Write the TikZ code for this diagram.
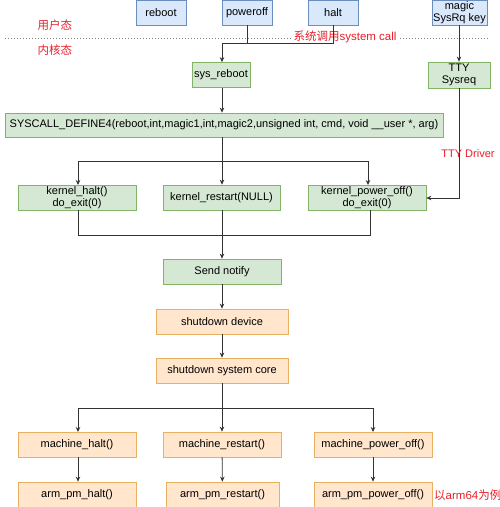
\documentclass[tikz,border=0pt]{standalone}
\usepackage{fontspec}
\setmainfont{Liberation Sans}
\newfontfamily\cjk{Noto Sans CJK SC}
\usetikzlibrary{arrows.meta}
\definecolor{bfill}{HTML}{DAE8FC}\definecolor{bline}{HTML}{6C8EBF}
\definecolor{gfill}{HTML}{D5E8D4}\definecolor{gline}{HTML}{82B366}
\definecolor{ofill}{HTML}{FFE6CC}\definecolor{oline}{HTML}{E8B060}
\definecolor{redtxt}{HTML}{E8202A}
\definecolor{conn}{HTML}{333333}
\tikzset{
  box/.style={draw, line width=0.7pt, inner sep=1pt, align=center, font=\fontsize{11}{12}\selectfont, minimum height=25pt},
  twoline/.style={font=\fontsize{11}{11.5}\selectfont},
  bbox/.style={box, fill=bfill, draw=bline},
  gbox/.style={box, fill=gfill, draw=gline},
  obox/.style={box, fill=ofill, draw=oline},
  conline/.style={draw=conn, line width=0.8pt},
  arr/.style={conline, -{Stealth[length=5pt,width=4.5pt]}},
  redlabel/.style={text=redtxt, font=\fontsize{11.5}{12}\selectfont, inner sep=1pt},
}
\begin{document}
\begin{tikzpicture}[x=1pt,y=-1pt]
\useasboundingbox[fill=white] (0,0) rectangle (500,507);
% top row
\node[bbox, minimum width=50pt] (reboot) at (161,12.5) {reboot};
\node[bbox, minimum width=50pt] (poweroff) at (247,12.5) {poweroff};
\node[bbox, minimum width=50pt] (halt) at (333,12.5) {halt};
\node[bbox, minimum width=55pt, twoline] (magic) at (459.5,12.5) {magic\\SysRq key};
% separator
\draw[gray, line width=0.8pt, dash pattern=on 1.2pt off 1.8pt] (5,38) -- (292,38);
\draw[gray, line width=0.8pt, dash pattern=on 1.2pt off 1.8pt] (400,38) -- (490,38);
\node[redlabel] (ulabel) at (55,25) {\cjk 用户态};
\node[redlabel] (klabel) at (55,50) {\cjk 内核态};
\node[redlabel] (sclabel) at (345,37) {{\cjk 系统调用}system call};
% kernel
\node[gbox, minimum width=58pt] (sysreboot) at (221,75) {sys\_reboot};
\node[gbox, minimum width=62pt, minimum height=26pt, twoline] (tty) at (459,75) {TTY\\Sysreq};
\node[gbox, minimum width=438pt, minimum height=24pt] (syscall) at (224,125) {SYSCALL\_DEFINE4(reboot,int,magic1,int,magic2,unsigned int, cmd, void \_\_user *, arg)};
\node[gbox, minimum width=118pt, twoline] (khalt) at (77,197.5) {kernel\_halt()\\do\_exit(0)};
\node[gbox, minimum width=117pt] (krestart) at (221.5,197.5) {kernel\_restart(NULL)};
\node[gbox, minimum width=118pt, twoline] (kpoweroff) at (367,197.5) {kernel\_power\_off()\\do\_exit(0)};
\node[gbox, minimum width=118pt] (notify) at (222,271.5) {Send notify};
\node[obox, minimum width=132pt] (sdev) at (222,321.5) {shutdown device};
\node[obox, minimum width=132pt] (score) at (222,370.5) {shutdown system core};
\node[obox, minimum width=118pt] (mhalt) at (77,444.5) {machine\_halt()};
\node[obox, minimum width=118pt] (mrestart) at (222,444.5) {machine\_restart()};
\node[obox, minimum width=118pt] (mpoweroff) at (373,444.5) {machine\_power\_off()};
\node[obox, minimum width=118pt] (ahalt) at (77,494.5) {arm\_pm\_halt()};
\node[obox, minimum width=113pt] (arestart) at (222.5,494.5) {arm\_pm\_restart()};
\node[obox, minimum width=118pt] (apoweroff) at (373,494.5) {arm\_pm\_power\_off()};
\node[redlabel, anchor=west] (armnote) at (433,495) {{\cjk 以}arm64{\cjk 为例}};
% connectors top
\coordinate (j1) at (222,43);
\draw[conline] (poweroff.south) |- (j1);
\draw[conline] (halt.south) |- (j1);
\draw[arr] (j1) -- (j1 |- sysreboot.north);
\draw[arr] (magic.south -| tty.north) -- (tty.north);
\draw[arr] (sysreboot.south -| 222,0) -- (syscall.north -| 222,0);
% fan out
\coordinate (j2) at (222,161);
\draw[conline] (syscall.south -| j2) -- (j2);
\draw[arr] (j2) -| (78,185);
\draw[arr] (j2) -| (368,185);
\draw[arr] (j2) -- (j2 |- krestart.north);
% TTY driver
\draw[arr] (tty.south) |- (kpoweroff.east |- 0,198);
\node[redlabel, font=\fontsize{11}{12}\selectfont] (ttyd) at (468,154) {TTY Driver};
% merge
\coordinate (j3) at (222,235);
\draw[conline] (78,210) |- (j3);
\draw[conline] (370,210) |- (j3);
\draw[conline] (krestart.south -| j3) -- (j3);
\draw[arr] (j3) -- (j3 |- notify.north);
\draw[arr] (notify) -- (sdev);
\draw[arr] (sdev) -- (score);
% fan out 2
\coordinate (j4) at (222,408);
\draw[conline] (score.south) -- (j4);
\draw[arr] (j4) -| (78,432);
\draw[arr] (j4) -| (373,432);
\draw[arr] (j4) -- (mrestart.north);
\draw[arr] (mhalt.south -| 78,0) -- (ahalt.north -| 78,0);
\draw[arr] (mrestart) -- (arestart);
\draw[arr] (mpoweroff) -- (apoweroff);
\end{tikzpicture}
\end{document}
